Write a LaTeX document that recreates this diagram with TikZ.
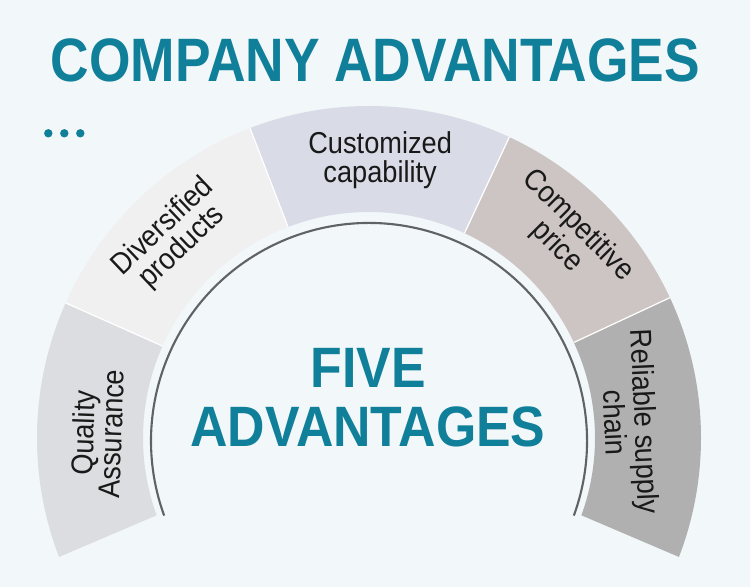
\documentclass[tikz,border=0pt]{standalone}
\usepackage{fontspec}
\setmainfont{Liberation Sans}
\newfontfamily\titlefont[FakeStretch=0.87]{Liberation Sans}
\newfontfamily\midfont[FakeStretch=0.91]{Liberation Sans}
\newfontfamily\segfont[FakeStretch=0.9]{Liberation Sans}
\usepackage{tikz}

\definecolor{bg_col}{RGB}{242,247,249}
\definecolor{teal_main}{RGB}{16,127,153}
\definecolor{qa_col}{RGB}{220,221,224}
\definecolor{div_col}{RGB}{240,240,241}
\definecolor{cust_col}{RGB}{217,220,231}
\definecolor{comp_col}{RGB}{205,197,196}
\definecolor{rel_col}{RGB}{176,176,176}
\definecolor{line_col}{RGB}{95,99,102}

\begin{document}
\begin{tikzpicture}[x=0.02cm, y=0.02cm,
		title_style/.style={text=teal_main,inner sep=0pt,anchor=base,font=\titlefont\bfseries\fontsize{34.9}{40}\selectfont},
		mid_style/.style={text=teal_main,inner sep=0pt,anchor=base,font=\midfont\bfseries\fontsize{32.4}{36}\selectfont},
		seg_label/.style={text=black!90,inner sep=0pt,align=center,font=\segfont\fontsize{17.2}{16}\selectfont},
		sep_style/.style={draw=white,line width=0.7pt},
		arc_style/.style={draw=line_col,line width=1.2pt}]

		\fill[bg_col] (0,0) rectangle (750,587);
		\useasboundingbox (0,0) rectangle (750,587);

		% heading
		\node[title_style] (title) at (375.5,505) {COMPANY ADVANTAGES};
		\fill[teal_main] (48.3,453.7) circle (4.2);
		\fill[teal_main] (64.3,453.7) circle (4.2);
		\fill[teal_main] (80.3,453.7) circle (4.2);

		% ring of five segments
		\begin{scope}[shift={(369,149)}]
		\fill[qa_col]   (200:226) arc[start angle=200,end angle=156,radius=226] -- (156:332) arc[start angle=156,end angle=201,radius=332] -- cycle;
		\fill[div_col]  (156:226) arc[start angle=156,end angle=111,radius=226] -- (111:332) arc[start angle=111,end angle=156,radius=332] -- cycle;
		\fill[cust_col] (111:226) arc[start angle=111,end angle=65,radius=226] -- (65:332) arc[start angle=65,end angle=111,radius=332] -- cycle;
		\fill[comp_col] (65:226) arc[start angle=65,end angle=25,radius=226] -- (25:332) arc[start angle=25,end angle=65,radius=332] -- cycle;
		\fill[rel_col]  (25:226) arc[start angle=25,end angle=-20,radius=226] -- (-21:332) arc[start angle=-21,end angle=25,radius=332] -- cycle;

		\draw[sep_style] (156:226) -- (156:332);
		\draw[sep_style] (111:226) -- (111:332);
		\draw[sep_style] (65:226) -- (65:332);
		\draw[sep_style] (25:226) -- (25:332);

		\node[seg_label,rotate=88]    (qa)   at (179:272)  {Quality\\Assurance};
		\node[seg_label,rotate=43.5]  (div)  at (134.3:281) {Diversified\\products};
		\node[seg_label]              (cust) at (87.7:278) {Customized\\capability};
		\node[seg_label,rotate=-45]   (comp) at (45.5:283) {Competitive\\price};
		\node[seg_label,rotate=-87.5] (rel)  at (3.5:262)  {Reliable supply\\chain};
		\end{scope}

		% inner arc
		\draw[arc_style] ([shift={(369,146)}]-20:218) arc[start angle=-20,end angle=200,radius=218];

		% centre text
		\node[mid_style] (five) at (368.5,199) {FIVE};
		\node[mid_style] (adv)  at (368,140)   {ADVANTAGES};
\end{tikzpicture}
\end{document}
